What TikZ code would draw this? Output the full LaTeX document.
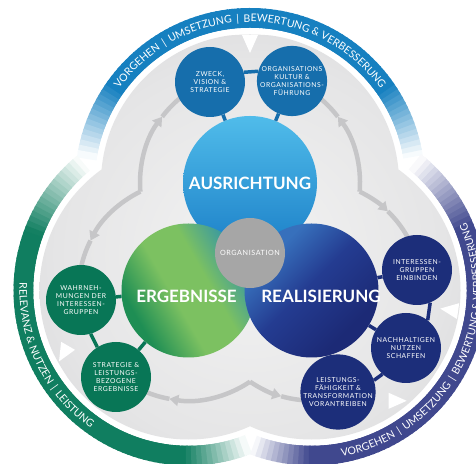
\documentclass[tikz,border=0pt]{standalone}
\usepackage{fontspec}
\setmainfont{Lato}
\newfontfamily\widelato[LetterSpace=8]{Lato}
\usetikzlibrary{calc,arrows.meta,decorations.text}

\definecolor{ausrlight}{RGB}{80,188,234}
\definecolor{ausrdark}{RGB}{28,128,200}
\definecolor{topsmall}{RGB}{22,110,172}
\definecolor{ergdark}{RGB}{30,142,84}
\definecolor{erglight}{RGB}{124,193,97}
\definecolor{ergteal}{RGB}{50,148,168}
\definecolor{ergsmall}{RGB}{8,118,86}
\definecolor{realdark}{RGB}{28,42,118}
\definecolor{realmid}{RGB}{36,60,145}
\definecolor{reallight}{RGB}{55,112,188}
\definecolor{realsmall}{RGB}{28,46,122}
\definecolor{orggrey}{RGB}{166,166,166}
\definecolor{ringblue}{RGB}{22,128,192}
\definecolor{ringgreen}{RGB}{16,126,96}
\definecolor{ringnavy}{RGB}{64,72,142}
\definecolor{flowgrey}{RGB}{198,198,200}
\definecolor{bgA}{RGB}{243,243,243}
\definecolor{bgB}{RGB}{229,229,230}
\definecolor{bgC}{RGB}{194,194,197}

\pgfdeclareradialshading{bgshade}{\pgfpoint{0bp}{0bp}}{color(0bp)=(bgA); color(22bp)=(bgB); color(50bp)=(bgC)}
\pgfdeclarehorizontalshading{ergshade}{100bp}{color(0bp)=(ergdark); color(28bp)=(ergdark); color(44bp)=(erglight); color(58bp)=(erglight); color(74bp)=(ergteal); color(100bp)=(ergteal)}
\pgfdeclarehorizontalshading{realshade}{100bp}{color(0bp)=(reallight); color(30bp)=(reallight); color(48bp)=(realmid); color(70bp)=(realdark); color(100bp)=(realdark)}

% ring segment with faded ends: centre, start, end, fade at start, fade at end, colour
\newcommand \ringband[6]
{
\foreach \k in {0,...,89}
{
\pgfmathsetmacro\bandA{#2+(#3-(#2))*\k/90}
\pgfmathsetmacro\bandB{#2+(#3-(#2))*(\k+1.4)/90}
\pgfmathsetmacro\bandM{#2+(#3-(#2))*(\k+0.5)/90}
\pgfmathsetmacro\bandP{100*min(1,(\bandM-(#2))/#4,((#3)-\bandM)/#5)}
\draw[line width=20bp, #6!\bandP!white] ($(#1)+(\bandA:165bp)$) arc[start angle=\bandA, end angle=\bandB, radius=165bp];
}
}
\newcommand \whitetri[2]
{
\fill[white, shift={(#1)}, rotate=#2] (9,0) -- (-9,8) -- (-9,-8) -- cycle;
}

\begin{document}
\begin{tikzpicture}[x=1bp, y=1bp, line join=round,
  smallball/.style={circle, minimum size=70bp, inner sep=0pt, align=center, text=white, font=\widelato\fontsize{6.8bp}{8.2bp}\selectfont},
  bigball/.style={circle, minimum size=134bp, inner sep=0pt},
  biglabel/.style={inner sep=0pt, text=white, font=\bfseries\fontsize{17bp}{20bp}\selectfont},
  link/.style={line width=3.5bp},
  flow/.style={draw=flowgrey, line width=4.5bp},
  flowhead/.style={flow, -{Triangle[length=9bp, width=11bp]}},
  ringtext/.style={decorate, decoration={text along path, text align=center, text color=white, text format delimiters={[}{]}, text={[\fontsize{10.5bp}{12bp}\selectfont]#1}}}]
\useasboundingbox (0,0) rectangle (476,464);
\clip (0,0) rectangle (476,464);
\coordinate (T) at (250,281);
\coordinate (L) at (188.5,173.5);
\coordinate (R) at (311.5,173.5);
\coordinate (M) at (250,209.5);
% outer rings
\ringband{T}{9.1}{170.9}{26}{26}{ringblue}
\ringband{L}{129.5}{290.6}{30}{22}{ringgreen}
\ringband{R}{-110.6}{50.5}{20}{28}{ringnavy}
\fill[white] (T) circle[radius=155bp] (L) circle[radius=155bp] (R) circle[radius=155bp];
\begin{scope}
\clip (T) circle[radius=149bp] (L) circle[radius=149bp] (R) circle[radius=149bp];
\shade[shading=bgshade] (M) circle[radius=220bp];
\end{scope}
\path[ringtext={VORGEHEN {\,}|{\,} UMSETZUNG {\,}|{\,} BEWERTUNG {\&} VERBESSERUNG}] ($(T)+(165:161bp)$) arc[start angle=165, end angle=15, radius=161bp];
\path[ringtext={RELEVANZ {\&} NUTZEN {\,}|{\,} LEISTUNG}] ($(L)+(145:169bp)$) arc[start angle=145, end angle=267, radius=169bp];
\path[ringtext={VORGEHEN {\,}|{\,} UMSETZUNG {\,}|{\,} BEWERTUNG {\&} VERBESSERUNG}] ($(R)+(-88:169bp)$) arc[start angle=-88, end angle=32, radius=169bp];
% white marks
\coordinate (tT)  at ($(T)+(90:139bp)$);
\coordinate (tL)  at ($(L)+(206.8:140bp)$);
\coordinate (tR1) at ($(R)+(-8:139bp)$);
\coordinate (tR2) at ($(R)+(-52:140bp)$);
\whitetri{tT}{270}
\whitetri{tL}{240}
\whitetri{tR1}{172}
\whitetri{tR2}{0}
% grey flows
\coordinate (cTL) at ($(T)+(184.5:110bp)$);
\coordinate (cTR) at ($(T)+(-4.5:110bp)$);
\coordinate (cB)  at ($(L)+(-56:110bp)$);
\draw[flowhead] (cTL) arc[start angle=184.5, end angle=143, radius=110bp] coordinate (hA);
\draw[flow] (hA) arc[start angle=143, end angle=126, radius=110bp];
\draw[flowhead] (cTL) arc[start angle=116, end angle=153, radius=110bp] coordinate (hB);
\draw[flow] (hB) arc[start angle=153, end angle=170, radius=110bp];
\draw[flowhead] (cTR) arc[start angle=-4.5, end angle=37, radius=110bp] coordinate (hC);
\draw[flow] (hC) arc[start angle=37, end angle=54, radius=110bp];
\draw[flowhead] (cTR) arc[start angle=64, end angle=46, radius=110bp] coordinate (hD);
\draw[flow] (hD) arc[start angle=46, end angle=26, radius=110bp];
\draw[flowhead] (cB) arc[start angle=304, end angle=260, radius=110bp] coordinate (hE);
\draw[flow] (hE) arc[start angle=260, end angle=244, radius=110bp];
\draw[flowhead] (cB) arc[start angle=236, end angle=254, radius=110bp] coordinate (hF);
\draw[flow] (hF) arc[start angle=254, end angle=272, radius=110bp];
% main circles
\node[bigball, top color=ausrlight, bottom color=ausrdark] (ausr) at (T) {};
\node[bigball, shade, shading=ergshade, shading angle=30] (erg) at (L) {};
\node[bigball, shade, shading=realshade, shading angle=-45] (real) at (R) {};
\node[circle, minimum size=70bp, inner sep=0pt, fill=orggrey, text=white, font=\widelato\fontsize{7.2bp}{9bp}\selectfont] (org) at (250,211) {ORGANISATION};
\node[biglabel] (lblA) at (250,281) {AUSRICHTUNG};
\node[biglabel] (lblE) at (186.5,168) {ERGEBNISSE};
\node[biglabel] (lblR) at (321,168) {REALISIERUNG};
% criteria
\node[smallball, fill=topsmall] (zweck) at (210,382) {ZWECK,\\VISION \&\\STRATEGIE};
\node[smallball, fill=topsmall] (orgk)  at (292,383) {ORGANISATIONS\\KULTUR \&\\ORGANISATIONS-\\FÜHRUNG};
\node[smallball, fill=ergsmall] (wahrn) at (81,164)  {WAHRNEH-\\MUNGEN DER\\INTERESSEN-\\GRUPPEN};
\node[smallball, fill=ergsmall] (strat) at (116,87)  {STRATEGIE \&\\LEISTUNGS-\\BEZOGENE\\ERGEBNISSE};
\node[smallball, fill=realsmall] (intg) at (417,194) {INTERESSEN-\\GRUPPEN\\EINBINDEN};
\node[smallball, fill=realsmall] (nach) at (406,116) {NACHHALTIGEN\\NUTZEN\\SCHAFFEN};
\node[smallball, fill=realsmall] (leist) at (338,72) {LEISTUNGS-\\FÄHIGKEIT \&\\TRANSFORMATION\\VORANTREIBEN};
\draw[link, topsmall] (zweck.16) -- (orgk.164) (zweck) -- (ausr) (orgk) -- (ausr);
\draw[link, ergsmall] (wahrn.-74) -- (strat.122) (wahrn) -- (erg) (strat) -- (erg);
\draw[link, realsmall] (intg.-68) -- (nach.52) (nach.-132) -- (leist.18) (intg) -- (real) (nach) -- (real) (leist) -- (real);
\end{tikzpicture}
\end{document}
